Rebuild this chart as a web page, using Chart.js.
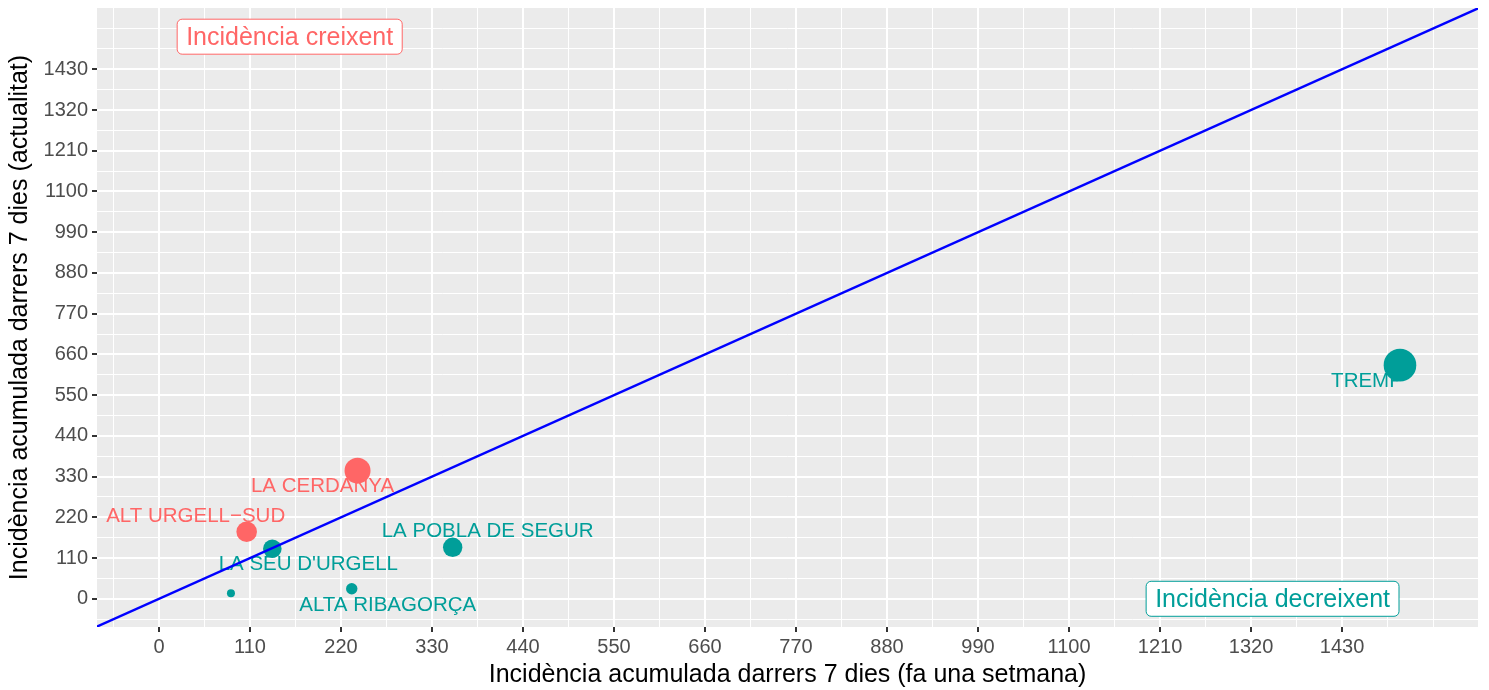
<!DOCTYPE html>
<html>
<head>
<meta charset="utf-8">
<script src="https://cdn.jsdelivr.net/npm/chart.js@4/dist/chart.umd.min.js"></script>
<style>
  body { margin: 0; background: #ffffff; }
  canvas { display: block; }
</style>
</head>
<body>
<canvas id="grafic" width="1489" height="690"></canvas>
<script>
// comarques i incidencia acumulada 7 dies
const comarques = ["TREMP", "LA CERDANYA", "ALT URGELL\u2212SUD", "LA SEU D'URGELL", "LA POBLA DE SEGUR", "ALTA RIBAGORÇA", ""];
const incFaUnaSetmana = [1500, 240, 106, 137, 355, 233, 87];
const incActualitat = [631, 346, 181, 135, 139, 27, 15];

// ticks de 110 en 110
const ticksMajors = [0, 110, 220, 330, 440, 550, 660, 770, 880, 990, 1100, 1210, 1320, 1430];

// recta y = x
const rectaPendent = 1;
const rectaOrigen = 0;

// etiquetes de zona
const zonaTextos = ["Incidència creixent", "Incidència decreixent"];
const zonaX = [158, 1346];
const zonaY = [1518, 0];

// estil
const radis = [16.3, 13, 10.3, 9.3, 9.7, 5.7, 4];
const desplEtiquetes = [[-33, 16], [-35, 16], [-51, -15], [36, 16], [35, -16], [36, 17], [0, 0]];
const vermell = "#FF6666";
const verd = "#009E99";
const limitsX = [-74.9, 1594.3];
const limitsY = [-76.2, 1595.5];
const fontFamily = "'Liberation Sans', Arial, Helvetica, sans-serif";

const colors = incActualitat.map((v, i) => v > incFaUnaSetmana[i] ? vermell : verd);
const zonaColors = [vermell, verd];

const punts = comarques.map((c, i) => ({ x: incFaUnaSetmana[i], y: incActualitat[i] }));
const recta = [-200, 1800].map(x => ({ x: x, y: rectaOrigen + rectaPendent * x }));

const esMajor = v => ticksMajors.includes(v);

function ticksAmbMenors() {
  let t = [];
  for (let v = -55; v <= 1540; v += 55) t.push({ value: v });
  return t;
}

function eix(titol, posicio, limits) {
  return {
    type: "linear",
    position: posicio,
    min: limits[0],
    max: limits[1],
    afterBuildTicks: s => { s.ticks = ticksAmbMenors(); },
    afterFit: s => {
      if (posicio === "left") s.width = 97;
      else s.height = 63;
      s.paddingTop = 0;
      s.paddingBottom = 0;
      s.paddingLeft = 0;
      s.paddingRight = 0;
    },
    border: { display: false },
    grid: {
      color: "#ffffff",
      lineWidth: ctx => esMajor(ctx.tick.value) ? 2 : 1,
      tickColor: ctx => esMajor(ctx.tick.value) ? "#333333" : "rgba(0,0,0,0)",
      tickLength: 5,
      tickWidth: 2
    },
    ticks: {
      autoSkip: false,
      maxRotation: 0,
      padding: posicio === "left" ? 4 : 3,
      color: "#4D4D4D",
      font: { family: fontFamily, size: 20 },
      callback: v => esMajor(v) ? String(v) : ""
    },
    title: {
      display: true,
      text: titol,
      color: "#000000",
      font: { family: fontFamily, size: 25 },
      padding: posicio === "left" ? { top: 5, bottom: 0 } : { top: 0, bottom: 0 }
    }
  };
}

const fonsPanell = {
  id: "fonsPanell",
  beforeDraw(chart) {
    const { ctx, chartArea: a } = chart;
    ctx.save();
    ctx.fillStyle = "#EBEBEB";
    ctx.fillRect(a.left, a.top, a.right - a.left, a.bottom - a.top);
    ctx.restore();
  }
};

const etiquetes = {
  id: "etiquetes",
  beforeDatasetsDraw(chart) {
    const { ctx, scales: { x, y }, chartArea: a } = chart;
    ctx.save();
    ctx.beginPath();
    ctx.rect(a.left, a.top, a.right - a.left, a.bottom - a.top);
    ctx.clip();
    ctx.font = "20.5px " + fontFamily;
    ctx.textAlign = "center";
    ctx.textBaseline = "middle";
    comarques.forEach((c, i) => {
      if (!c) return;
      ctx.fillStyle = colors[i];
      ctx.fillText(c, x.getPixelForValue(incFaUnaSetmana[i]) + desplEtiquetes[i][0],
        y.getPixelForValue(incActualitat[i]) + desplEtiquetes[i][1]);
    });
    ctx.restore();
  },
  afterDatasetsDraw(chart) {
    const { ctx, scales: { x, y } } = chart;
    ctx.save();
    ctx.font = "25px " + fontFamily;
    ctx.textAlign = "center";
    ctx.textBaseline = "middle";
    zonaTextos.forEach((t, i) => {
      const px = x.getPixelForValue(zonaX[i]);
      const py = y.getPixelForValue(zonaY[i]);
      const w = ctx.measureText(t).width + 18;
      const h = 35;
      ctx.beginPath();
      ctx.roundRect(px - w / 2, py - h / 2, w, h, 5);
      ctx.fillStyle = "#ffffff";
      ctx.fill();
      ctx.lineWidth = 1;
      ctx.strokeStyle = zonaColors[i];
      ctx.stroke();
      ctx.fillStyle = zonaColors[i];
      ctx.fillText(t, px, py + 1);
    });
    ctx.restore();
  }
};

new Chart(document.getElementById("grafic").getContext("2d"), {
  type: "scatter",
  data: {
    datasets: [
      {
        type: "line",
        data: recta,
        borderColor: "#0000FF",
        borderWidth: 2.5,
        pointRadius: 0,
        clip: 0,
        order: 0
      },
      {
        data: punts,
        backgroundColor: colors,
        borderWidth: 0,
        pointRadius: radis,
        pointHoverRadius: radis,
        order: 1
      }
    ]
  },
  options: {
    responsive: false,
    animation: false,
    layout: { autoPadding: false, padding: { left: 0, right: 11, top: 8, bottom: 0 } },
    plugins: {
      legend: { display: false },
      tooltip: { enabled: false }
    },
    scales: {
      x: eix("Incidència acumulada darrers 7 dies (fa una setmana)", "bottom", limitsX),
      y: eix("Incidència acumulada darrers 7 dies (actualitat)", "left", limitsY)
    }
  },
  plugins: [fonsPanell, etiquetes]
});
</script>
</body>
</html>
